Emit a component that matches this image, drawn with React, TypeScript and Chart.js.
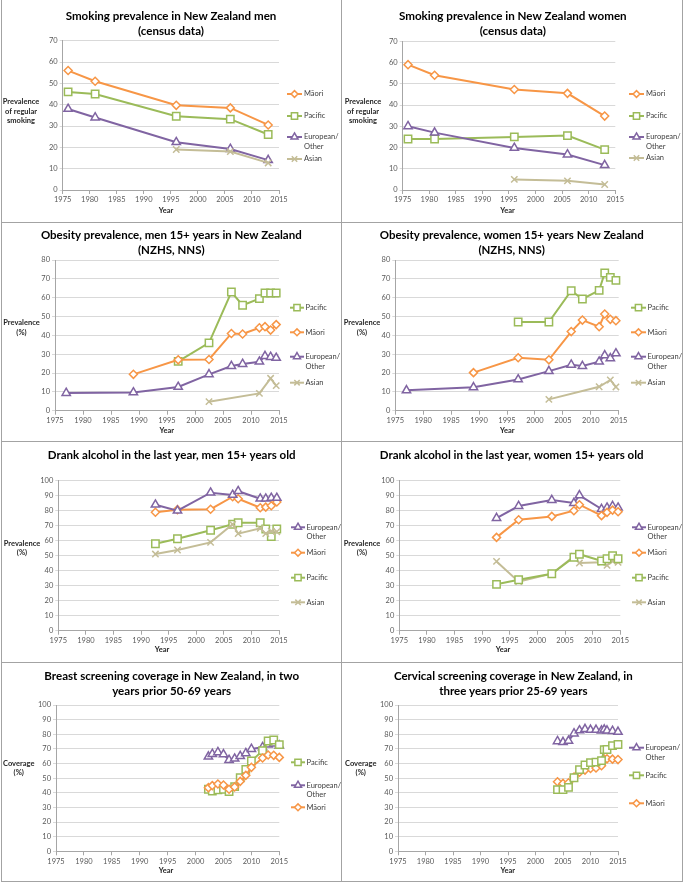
import React, { useEffect, useRef } from 'react';
import { Chart, registerables } from 'chart.js';
Chart.register(...registerables);

const FONT = 'Lato, "Open Sans", "DejaVu Sans", sans-serif';

// ---------- colours / series styles ----------
const MAORI_COLOR = '#F79646';
const PACIFIC_COLOR = '#9BBB59';
const EURO_COLOR = '#8064A2';
const ASIAN_COLOR = '#C4BD97';

const SERIES_STYLE: any = {
  maori: { label: ['Māori'], color: MAORI_COLOR, style: 'rectRot', radius: 4 },
  pacific: { label: ['Pacific'], color: PACIFIC_COLOR, style: 'rect', radius: 5.2 },
  euro: { label: ['European/', 'Other'], color: EURO_COLOR, style: 'triangle', radius: 4.8 },
  asian: { label: ['Asian'], color: ASIAN_COLOR, style: 'crossRot', radius: 4.5 },
};

// ---------- data ----------
const xTickMin = 1975;
const xTickMax = 2015;

// Smoking (census)
const smokeYears = [1976, 1981, 1996, 2006, 2013];
const smokeAsianYears = [1996, 2006, 2013];
const smokeMenMaori = [56, 51, 39.7, 38.5, 30.5];
const smokeMenPacific = [46, 45, 34.6, 33.2, 26];
const smokeMenEuro = [38, 34, 22.4, 19.2, 14];
const smokeMenAsian = [19, 18, 12.7];
const smokeWomenMaori = [59, 54, 47.3, 45.5, 34.8];
const smokeWomenPacific = [24, 24, 25, 25.6, 19];
const smokeWomenEuro = [30, 27, 19.8, 16.7, 11.7];
const smokeWomenAsian = [5, 4.3, 2.6];

// Obesity (NZHS, NNS)
const obesityYears = [1977, 1989, 1997, 2002.5, 2006.5, 2008.5, 2011.5, 2012.5, 2013.5, 2014.5];
const obesityAsianYears = [2002.5, 2011.5, 2013.5, 2014.5];
const obesityMenEuro = [9.4, 9.7, 12.6, 19.3, 23.7, 24.8, 26, 29, 28.5, 28];
const obesityMenMaori = [null, 19.3, 27, 27.2, 41, 40.7, 44, 44.6, 42.8, 45.7];
const obesityMenPacific = [null, null, 26.2, 36, 63, 56, 59.5, 62.5, 62.5, 62.5];
const obesityMenAsian = [4.8, 9.2, 17.2, 13.3];
const obesityWomenEuro = [10.8, 12.4, 16.6, 21, 24.4, 23.7, 26, 29.4, 27.8, 30.4];
const obesityWomenMaori = [null, 20.2, 28.1, 27, 42, 48.1, 44.6, 51.3, 48.5, 47.8];
const obesityWomenPacific = [null, null, 47.1, 47.1, 63.7, 59.3, 63.9, 73.1, 70.8, 69.2];
const obesityWomenAsian = [6, 12.7, 16.3, 12.6];

// Drank alcohol in the last year
const alcoholYears = [1992.6, 1996.6, 2002.6, 2006.6, 2007.6, 2011.6, 2012.6, 2013.6, 2014.6];
const alcoholMenEuro = [84, 80, 92, 90.5, 93, 88, 88, 88.5, 88.5];
const alcoholMenMaori = [79, 80.7, 81, 89.3, 88, 82, 82.4, 83.3, 85.8];
const alcoholMenPacific = [58, 61.3, 67, 71, 72, 72, 67.8, 62.7, 67.8];
const alcoholMenAsian = [51.1, 53.8, 58.9, 70.9, 64.7, 68.2, 64.7, 66.4, 66];
const alcoholWomenEuro = [75.1, 83.1, 87.1, 85.1, 90.2, 81.1, 82, 83.1, 82];
const alcoholWomenMaori = [62.2, 74, 76.2, 80, 84, 76.7, 78.9, 80.4, 79.3];
const alcoholWomenPacific = [30.9, 34, 38, 49, 51, 46.5, 48, 50, 48];
const alcoholWomenAsian = [46.2, 32.7, 38, 49.6, 45.1, 45.6, 43.6, 46.4, 45.6];

// Breast screening coverage
const breastYears = [2002.3, 2003, 2004, 2005, 2006, 2007, 2008, 2009, 2010, 2012, 2013, 2014, 2015];
const breastPacific = [42.4, 41.2, 42, 42.4, 40.8, 44.2, 50.3, 56, 61.7, 68.8, 75.4, 76.1, 72.9];
const breastEuro = [64.7, 66.5, 67.7, 66.3, 62.4, 63.3, 65.1, 67, 69.9, 71.1, 72.9, 73.6, 72.2];
const breastMaori = [43.5, 44.9, 46, 45.3, 42.4, 44, 47.8, 51.9, 57.4, 63.8, 65.8, 65.6, 64.2];

// Cervical screening coverage
const cervicalYears = [2004, 2005, 2006, 2007, 2008, 2009, 2010, 2011, 2012, 2012.5, 2013, 2014, 2015];
const cervicalEuro = [75.2, 74.6, 75.5, 80.5, 82.6, 83.5, 83, 83, 82.5, 83.2, 82.5, 82.2, 81.6];
const cervicalPacific = [42.2, 42.2, 43.7, 50.3, 55.8, 59, 60.6, 61, 62, 69.5, 69.6, 72.2, 73];
const cervicalMaori = [47.5, 46.4, 46.8, 50.8, 54, 55.5, 56.6, 57, 58.5, 63, 63.2, 63, 62.7];

// ---------- panel layout ----------
const PANELS: any[] = [
  {
    box: [0, 0, 341, 222], area: [62.7, 279, 40.7, 190], yMax: 70,
    title: ['Smoking prevalence in New Zealand men', '(census data)'], titleX: 171, titleY: [16, 31], titleW: 211,
    yTitle: ['Prevalence', 'of regular', 'smoking'], yTitleX: 21, yTitleY: [102, 111.5, 121],
    yearX: 166, yearY: 211,
    series: [
      { key: 'asian', xs: smokeAsianYears, ys: smokeMenAsian },
      { key: 'euro', xs: smokeYears, ys: smokeMenEuro },
      { key: 'pacific', xs: smokeYears, ys: smokeMenPacific },
      { key: 'maori', xs: smokeYears, ys: smokeMenMaori },
    ],
    legend: { x1: 287, x2: 302, tx: 304, items: [['maori', 94], ['pacific', 116], ['euro', 137], ['asian', 159]] },
  },
  {
    box: [342, 0, 343, 222], area: [402.7, 615.3, 41.3, 190], yMax: 70,
    title: ['Smoking prevalence in New Zealand women', '(census data)'], titleX: 512.8, titleY: [16, 31], titleW: 228,
    yTitle: ['Prevalence', 'of regular', 'smoking'], yTitleX: 363, yTitleY: [102, 111.5, 121],
    yearX: 507.5, yearY: 211,
    series: [
      { key: 'asian', xs: smokeAsianYears, ys: smokeWomenAsian },
      { key: 'euro', xs: smokeYears, ys: smokeWomenEuro },
      { key: 'pacific', xs: smokeYears, ys: smokeWomenPacific },
      { key: 'maori', xs: smokeYears, ys: smokeWomenMaori },
    ],
    legend: { x1: 629, x2: 644, tx: 646, items: [['maori', 94], ['pacific', 116], ['euro', 137], ['asian', 158]] },
  },
  {
    box: [0, 222, 341, 219], area: [55, 279, 260, 410.7], yMax: 80,
    title: ['Obesity prevalence, men 15+ years in New Zealand', '(NZHS, NNS)'], titleX: 171.3, titleY: [235.7, 250.7], titleW: 261,
    yTitle: ['Prevalence', '(%)'], yTitleX: 21.5, yTitleY: [322.7, 332.3],
    yearX: 166.7, yearY: 430.7,
    series: [
      { key: 'asian', xs: obesityAsianYears, ys: obesityMenAsian },
      { key: 'euro', xs: obesityYears, ys: obesityMenEuro },
      { key: 'maori', xs: obesityYears, ys: obesityMenMaori },
      { key: 'pacific', xs: obesityYears, ys: obesityMenPacific },
    ],
    legend: { x1: 290, x2: 304, tx: 305.5, items: [['pacific', 307.7], ['maori', 332.3], ['euro', 356.7], ['asian', 382.7]] },
  },
  {
    box: [342, 222, 343, 219], area: [395.3, 618.7, 260, 410.7], yMax: 80,
    title: ['Obesity prevalence, women 15+ years New Zealand', '(NZHS, NNS)'], titleX: 511.7, titleY: [235.7, 250.7], titleW: 264,
    yTitle: ['Prevalence', '(%)'], yTitleX: 362, yTitleY: [322.7, 332.3],
    yearX: 507.3, yearY: 430.7,
    series: [
      { key: 'asian', xs: obesityAsianYears, ys: obesityWomenAsian },
      { key: 'euro', xs: obesityYears, ys: obesityWomenEuro },
      { key: 'maori', xs: obesityYears, ys: obesityWomenMaori },
      { key: 'pacific', xs: obesityYears, ys: obesityWomenPacific },
    ],
    legend: { x1: 631, x2: 646, tx: 647.5, items: [['pacific', 307.7], ['maori', 332.3], ['euro', 356.7], ['asian', 382.7]] },
  },
  {
    box: [0, 441, 341, 221], area: [58.3, 279, 480.7, 630.7], yMax: 100,
    title: ['Drank alcohol in the last year, men 15+ years old'], titleX: 171.7, titleY: [455.7], titleW: 248,
    yTitle: ['Prevalence', '(%)'], yTitleX: 22, yTitleY: [543.3, 552.7],
    yearX: 162, yearY: 649.5,
    series: [
      { key: 'asian', xs: alcoholYears, ys: alcoholMenAsian },
      { key: 'pacific', xs: alcoholYears, ys: alcoholMenPacific },
      { key: 'euro', xs: alcoholYears, ys: alcoholMenEuro },
      { key: 'maori', xs: alcoholYears, ys: alcoholMenMaori },
    ],
    legend: { x1: 291, x2: 305, tx: 306.5, items: [['euro', 527.3], ['maori', 552.7], ['pacific', 577.7], ['asian', 602.3]] },
  },
  {
    box: [342, 441, 343, 221], area: [399.3, 620.3, 480.7, 630.7], yMax: 100,
    title: ['Drank alcohol in the last year, women 15+ years old'], titleX: 511.7, titleY: [455.7], titleW: 264,
    yTitle: ['Prevalence', '(%)'], yTitleX: 362, yTitleY: [543.3, 552.7],
    yearX: 503, yearY: 649.5,
    series: [
      { key: 'pacific', xs: alcoholYears, ys: alcoholWomenPacific },
      { key: 'asian', xs: alcoholYears, ys: alcoholWomenAsian },
      { key: 'maori', xs: alcoholYears, ys: alcoholWomenMaori },
      { key: 'euro', xs: alcoholYears, ys: alcoholWomenEuro },
    ],
    legend: { x1: 632, x2: 646, tx: 647.5, items: [['euro', 527.3], ['maori', 552.7], ['pacific', 577.7], ['asian', 602.3]] },
  },
  {
    box: [0, 662, 341, 221], area: [56, 279.3, 705, 851.3], yMax: 100,
    title: ['Breast screening coverage in New Zealand, in two', 'years prior 50-69 years'], titleX: 171.7, titleY: [676.7, 691.7], titleW: 255,
    yTitle: ['Coverage', '(%)'], yTitleX: 18.7, yTitleY: [763.3, 772.3],
    yearX: 166, yearY: 870.7,
    series: [
      { key: 'maori', xs: breastYears, ys: breastMaori },
      { key: 'pacific', xs: breastYears, ys: breastPacific },
      { key: 'euro', xs: breastYears, ys: breastEuro },
    ],
    legend: { x1: 291, x2: 305, tx: 306.5, items: [['pacific', 762.3], ['euro', 785.3], ['maori', 807.3]] },
  },
  {
    box: [342, 662, 343, 221], area: [398, 618, 705, 851.3], yMax: 100,
    title: ['Cervical screening coverage in New Zealand, in', 'three years prior 25-69 years'], titleX: 513.3, titleY: [676, 691.7], titleW: 239,
    yTitle: ['Coverage', '(%)'], yTitleX: 360.7, yTitleY: [763.3, 772.3],
    yearX: 507.8, yearY: 870.7,
    series: [
      { key: 'pacific', xs: cervicalYears, ys: cervicalPacific },
      { key: 'maori', xs: cervicalYears, ys: cervicalMaori },
      { key: 'euro', xs: cervicalYears, ys: cervicalEuro },
    ],
    legend: { x1: 629, x2: 644, tx: 645.5, items: [['euro', 747.7], ['pacific', 775.3], ['maori', 803.3]] },
  },
];

const Y_AXIS_W = 30;
const X_AXIS_H = 20;
const TICK_COLOR = '#595959';
const GRID_COLOR = '#D9D9D9';
const AXIS_COLOR = '#A6A6A6';

function drawMarker(ctx: CanvasRenderingContext2D, style: string, x: number, y: number, r: number, color: string) {
  ctx.save();
  ctx.strokeStyle = color;
  ctx.fillStyle = '#ffffff';
  ctx.lineWidth = 1.5;
  ctx.beginPath();
  if (style === 'rect') {
    const s = r * Math.SQRT1_2;
    ctx.rect(x - s, y - s, 2 * s, 2 * s);
    ctx.fill();
    ctx.stroke();
  } else if (style === 'rectRot') {
    ctx.moveTo(x - r, y);
    ctx.lineTo(x, y - r);
    ctx.lineTo(x + r, y);
    ctx.lineTo(x, y + r);
    ctx.closePath();
    ctx.fill();
    ctx.stroke();
  } else if (style === 'triangle') {
    const a = Math.sin(Math.PI / 3) * r;
    ctx.moveTo(x, y - r);
    ctx.lineTo(x + a, y + r / 2);
    ctx.lineTo(x - a, y + r / 2);
    ctx.closePath();
    ctx.fill();
    ctx.stroke();
  } else {
    const d = r * Math.SQRT1_2;
    ctx.moveTo(x - d, y - d);
    ctx.lineTo(x + d, y + d);
    ctx.moveTo(x + d, y - d);
    ctx.lineTo(x - d, y + d);
    ctx.stroke();
  }
  ctx.restore();
}

function makeDecor(cfg: any) {
  const ox = cfg.box[0];
  const oy = cfg.box[1];
  return {
    id: 'decor',
    afterDraw(chart: any) {
      const ctx: CanvasRenderingContext2D = chart.ctx;
      ctx.save();
      // title, fitted to reference width
      ctx.font = `bold 12px ${FONT}`;
      const m = ctx.measureText(cfg.title[0]).width;
      const size = (12 * cfg.titleW) / m;
      ctx.font = `bold ${size}px ${FONT}`;
      ctx.fillStyle = '#000000';
      ctx.textAlign = 'center';
      ctx.textBaseline = 'middle';
      cfg.title.forEach((t: string, i: number) => ctx.fillText(t, cfg.titleX - ox, cfg.titleY[i] - oy));
      // y title (horizontal)
      ctx.font = `bold 7.5px ${FONT}`;
      ctx.fillStyle = '#262626';
      cfg.yTitle.forEach((t: string, i: number) => ctx.fillText(t, cfg.yTitleX - ox, cfg.yTitleY[i] - oy));
      // x title
      ctx.fillText('Year', cfg.yearX - ox, cfg.yearY - oy);
      // legend
      const lg = cfg.legend;
      ctx.textAlign = 'left';
      ctx.font = `7.5px ${FONT}`;
      lg.items.forEach(([key, y]: [string, number]) => {
        const st = SERIES_STYLE[key];
        const yy = y - oy;
        ctx.save();
        ctx.strokeStyle = st.color;
        ctx.lineWidth = 2;
        ctx.beginPath();
        ctx.moveTo(lg.x1 - ox, yy);
        ctx.lineTo(lg.x2 - ox, yy);
        ctx.stroke();
        ctx.restore();
        drawMarker(ctx, st.style, (lg.x1 + lg.x2) / 2 - ox, yy, st.radius * 0.85, st.color);
        ctx.fillStyle = '#404040';
        st.label.forEach((t: string, i: number) => ctx.fillText(t, lg.tx - ox, yy + i * 9.5));
      });
      ctx.restore();
    },
  };
}

function Panel({ cfg }: { cfg: any }) {
  const ref = useRef<HTMLCanvasElement | null>(null);
  useEffect(() => {
    if (!ref.current) return;
    const [bx, by, bw, bh] = cfg.box;
    const [L, R, T, B] = cfg.area;
    const l = L - bx, r = R - bx, t = T - by, b = B - by;
    const datasets = cfg.series.map((s: any) => {
      const st = SERIES_STYLE[s.key];
      const pts = s.xs
        .map((x: number, i: number) => ({ x, y: s.ys[i] }))
        .filter((p: any) => p.y !== null && p.y !== undefined);
      return {
        label: st.label.join(' '),
        data: pts,
        borderColor: st.color,
        backgroundColor: st.color,
        borderWidth: 2,
        pointStyle: st.style,
        pointRadius: st.radius,
        pointBackgroundColor: '#ffffff',
        pointBorderColor: st.color,
        pointBorderWidth: 1.5,
        tension: 0,
        fill: false,
        clip: false,
      };
    });
    const tickFont = { family: FONT, size: 7.5 };
    const chart = new Chart(ref.current, {
      type: 'line',
      data: { datasets },
      options: {
        responsive: false,
        maintainAspectRatio: false,
        animation: false,
        events: [],
        layout: { padding: { left: l - Y_AXIS_W, right: bw - r, top: t, bottom: bh - b - X_AXIS_H } },
        plugins: { legend: { display: false }, title: { display: false }, tooltip: { enabled: false } },
        scales: {
          x: {
            type: 'linear',
            min: xTickMin,
            max: xTickMax,
            afterFit: (s: any) => { s.height = X_AXIS_H; },
            ticks: { stepSize: 5, callback: (v: any) => String(v), font: tickFont, color: TICK_COLOR, padding: 1.5, maxRotation: 0, autoSkip: false },
            grid: { drawOnChartArea: false, drawTicks: true, tickLength: 4, color: AXIS_COLOR },
            border: { display: true, color: AXIS_COLOR },
          },
          y: {
            type: 'linear',
            min: 0,
            max: cfg.yMax,
            afterFit: (s: any) => { s.width = Y_AXIS_W; },
            ticks: { stepSize: 10, font: tickFont, color: TICK_COLOR, padding: 2 },
            grid: { color: GRID_COLOR, tickLength: 3 },
            border: { display: true, color: AXIS_COLOR },
          },
        },
      } as any,
      plugins: [makeDecor(cfg)],
    });
    return () => chart.destroy();
  }, [cfg]);
  const [bx, by, bw, bh] = cfg.box;
  return (
    <canvas
      ref={ref}
      width={bw}
      height={bh}
      style={{ position: 'absolute', left: bx, top: by, width: bw, height: bh }}
    />
  );
}

const LINE = '#A3A3A3';

export default function App() {
  useEffect(() => {
    document.body.style.margin = '0';
    document.body.style.background = '#ffffff';
  }, []);
  const lines = [
    { left: 1, top: 0, width: 1.3, height: 882 },
    { left: 341, top: 0, width: 1.3, height: 882 },
    { left: 682, top: 0, width: 1.3, height: 882 },
    { left: 1, top: 221.5, width: 682, height: 1.3 },
    { left: 1, top: 441, width: 682, height: 1.3 },
    { left: 1, top: 661.5, width: 682, height: 1.3 },
    { left: 1, top: 880.5, width: 682, height: 1.3 },
  ];
  return (
    <div style={{ position: 'relative', width: 685, height: 883, background: '#ffffff', overflow: 'hidden' }}>
      {PANELS.map((p, i) => (
        <Panel key={i} cfg={p} />
      ))}
      {lines.map((s, i) => (
        <div key={'l' + i} style={{ position: 'absolute', background: LINE, ...s }} />
      ))}
    </div>
  );
}
